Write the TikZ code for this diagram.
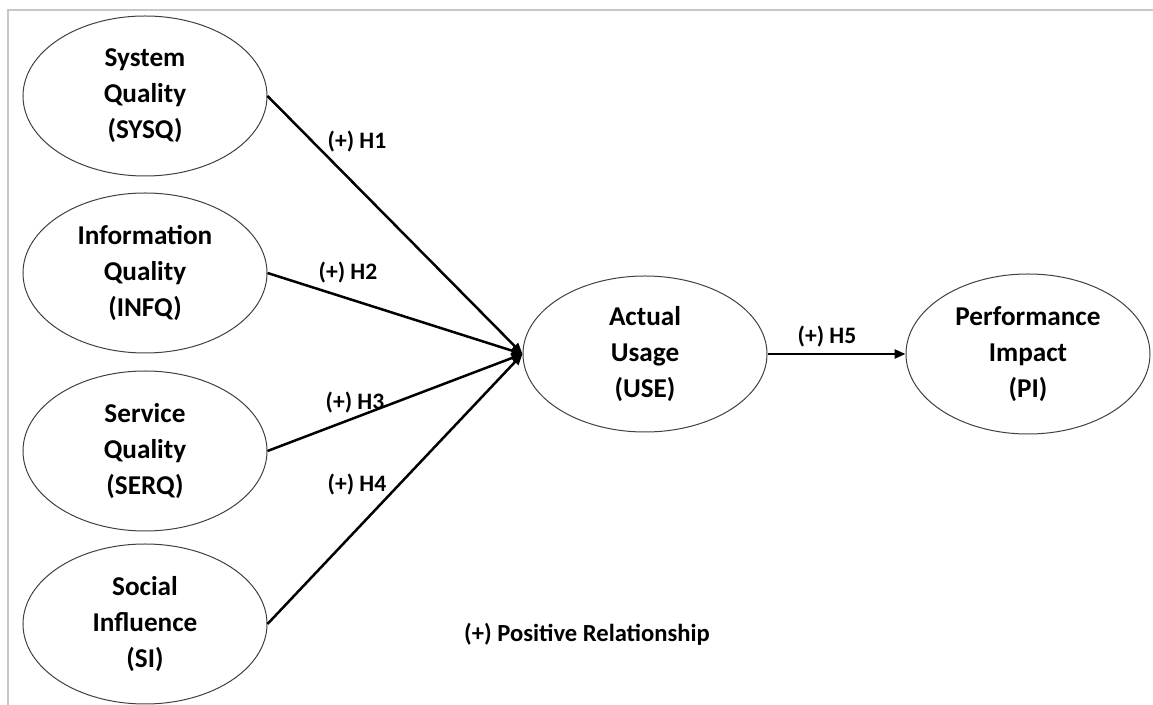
\documentclass[tikz,border=0pt]{standalone}
\usepackage{fontspec}
\setmainfont{Carlito}
\usetikzlibrary{shapes.geometric,arrows.meta}
\tikzset{
  construct/.style={ellipse, draw=black!75, line width=0.5pt, minimum width=122pt,
    minimum height=80pt, inner sep=0pt, align=center,
    font=\fontsize{13.6}{18}\selectfont\bfseries},
  path/.style={draw=black, line width=1.25pt, -{Triangle[length=5.5pt,width=4.5pt]}},
  hyp/.style={font=\fontsize{11.8}{14}\selectfont\bfseries, inner sep=0pt},
  legendtext/.style={font=\fontsize{12.3}{15}\selectfont\bfseries, inner sep=0pt},
  frameline/.style={draw=black!22, line width=1pt}
}
\begin{document}
\begin{tikzpicture}[x=0.5pt,y=-0.5pt]
  \useasboundingbox (0,0) rectangle (1153,705);
  % page frame
  \coordinate (f1) at (8,705);
  \coordinate (f2) at (8,10);
  \coordinate (f3) at (1153,10);
  \draw[frameline] (f1) -- (f2) -- (f3);

  % constructs
  \node[construct] (sysq) at (145,96)  {System\\Quality\\(SYSQ)};
  \node[construct] (infq) at (145,273) {Information\\Quality\\(INFQ)};
  \node[construct] (serq) at (145,451) {Service\\Quality\\(SERQ)};
  \node[construct] (si)   at (145,624) {Social\\Influence\\(SI)};
  \node[construct, minimum height=78pt] (use) at (645,354) {Actual\\Usage\\(USE)};
  \node[construct] (pi)   at (1028,354) {Performance\\Impact\\(PI)};

  % hypothesised paths
  \draw[path] (sysq.east) -- (use.west);
  \draw[path] (infq.east) -- (use.west);
  \draw[path] (serq.east) -- (use.west);
  \draw[path] (si.east)   -- (use.west);
  \draw[path] (use.east)  -- (pi.west);

  % path labels
  \node[hyp] (h1) at (357,142) {(+) H1};
  \node[hyp] (h2) at (348,273) {(+) H2};
  \node[hyp] (h3) at (355,403) {(+) H3};
  \node[hyp] (h4) at (357,485) {(+) H4};
  \node[hyp] (h5) at (827,337) {(+) H5};

  % legend
  \node[legendtext] (legend) at (587,634) {(+) Positive Relationship};
\end{tikzpicture}
\end{document}
